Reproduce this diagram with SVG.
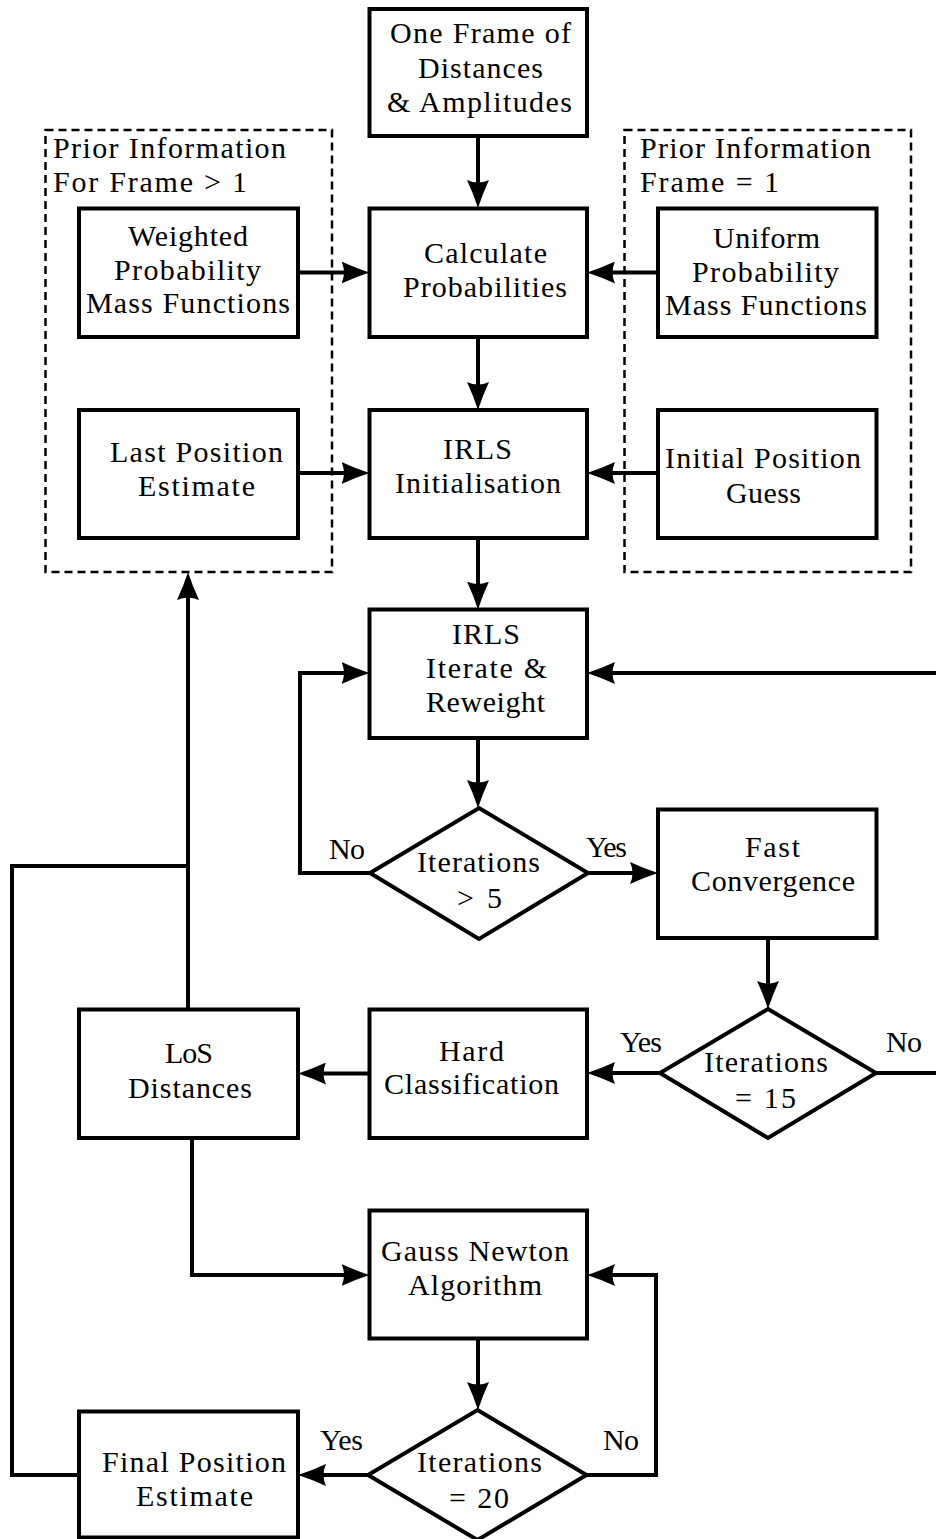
<svg xmlns="http://www.w3.org/2000/svg" width="936" height="1539" viewBox="0 0 936 1539">
<style>
.box{fill:#fff;stroke:#000;stroke-width:4;stroke-linejoin:miter}
.dash{fill:none;stroke:#000;stroke-width:2.5;stroke-dasharray:8 5}
.edge{fill:none;stroke:#000;stroke-width:4;stroke-linejoin:miter}
.arr{marker-end:url(#ah)}
text{font-family:'Liberation Serif','DejaVu Serif',serif;font-size:30px;fill:#000}
</style>
<defs>
<marker id="ah" viewBox="0 0 28 22" refX="18" refY="11" markerWidth="28" markerHeight="22" markerUnits="userSpaceOnUse" orient="auto">
<path d="M0,0 Q14,6.5 28,11 Q14,15.5 0,22 Q5,11 0,0 Z" fill="#000"/>
</marker>
</defs>
<rect width="936" height="1539" fill="#fff"/>

<g id="prior-later">
<rect class="dash" x="45.5" y="130" width="286.5" height="442"/>
<text x="53" y="158" textLength="233" lengthAdjust="spacing">Prior Information</text>
<text x="53" y="192" textLength="194" lengthAdjust="spacing">For Frame &gt; 1</text>
</g>
<g id="prior-first">
<rect class="dash" x="624.5" y="130" width="286.5" height="442"/>
<text x="640" y="158" textLength="231" lengthAdjust="spacing">Prior Information</text>
<text x="640" y="192" textLength="139" lengthAdjust="spacing">Frame = 1</text>
</g>

<g id="connectors">
<path class="edge arr" d="M478,136 V198"/>
<path class="edge arr" d="M298,272.5 H359.5"/>
<path class="edge arr" d="M658,272.5 H597"/>
<path class="edge arr" d="M478,337 V400"/>
<path class="edge arr" d="M298,473 H359.5"/>
<path class="edge arr" d="M658,473 H597"/>
<path class="edge arr" d="M478,538 V599.5"/>
<path class="edge arr" d="M478,738 V798"/>
<path class="edge arr" d="M370,873 H300 V673 H359.5"/>
<path class="edge arr" d="M588,873 H648"/>
<path class="edge arr" d="M768,938 V999"/>
<path class="edge arr" d="M876,1073 H945 V673 H597"/>
<path class="edge arr" d="M660,1073 H597"/>
<path class="edge arr" d="M369.5,1073.5 H308"/>
<path class="edge arr" d="M188,1009.5 V582"/>
<path class="edge" d="M79,1475 H12 V866 H188"/>
<path class="edge arr" d="M192,1138 V1275 H359.5"/>
<path class="edge arr" d="M478,1338.5 V1400"/>
<path class="edge arr" d="M586.5,1475 H656 V1275 H597"/>
<path class="edge arr" d="M368,1475 H308"/>
<text x="329" y="859" textLength="36" lengthAdjust="spacing">No</text>
<text x="586" y="857" textLength="41" lengthAdjust="spacing">Yes</text>
<text x="620" y="1052" textLength="42" lengthAdjust="spacing">Yes</text>
<text x="886" y="1052" textLength="36" lengthAdjust="spacing">No</text>
<text x="320" y="1450" textLength="43" lengthAdjust="spacing">Yes</text>
<text x="603" y="1450" textLength="36" lengthAdjust="spacing">No</text>
</g>

<g id="one-frame">
<rect class="box" x="369.5" y="9" width="217.5" height="127"/>
<text x="390" y="43" textLength="181" lengthAdjust="spacing">One Frame of</text>
<text x="418" y="78" textLength="125" lengthAdjust="spacing">Distances</text>
<text x="387" y="112" textLength="185" lengthAdjust="spacing">&amp; Amplitudes</text>
</g>
<g id="weighted-pmf">
<rect class="box" x="79" y="208.5" width="219" height="128.5"/>
<text x="128" y="246" textLength="120" lengthAdjust="spacing">Weighted</text>
<text x="114" y="280" textLength="147" lengthAdjust="spacing">Probability</text>
<text x="86" y="313" textLength="204" lengthAdjust="spacing">Mass Functions</text>
</g>
<g id="calc-prob">
<rect class="box" x="369.5" y="208.5" width="217.5" height="128.5"/>
<text x="424" y="263" textLength="123" lengthAdjust="spacing">Calculate</text>
<text x="403" y="297" textLength="164" lengthAdjust="spacing">Probabilities</text>
</g>
<g id="uniform-pmf">
<rect class="box" x="658" y="208.5" width="218.5" height="128.5"/>
<text x="713" y="248" textLength="107" lengthAdjust="spacing">Uniform</text>
<text x="692" y="282" textLength="147" lengthAdjust="spacing">Probability</text>
<text x="665" y="315" textLength="202" lengthAdjust="spacing">Mass Functions</text>
</g>
<g id="last-pos">
<rect class="box" x="79" y="410" width="219" height="128"/>
<text x="110" y="462" textLength="173" lengthAdjust="spacing">Last Position</text>
<text x="138" y="496" textLength="117" lengthAdjust="spacing">Estimate</text>
</g>
<g id="irls-init">
<rect class="box" x="369.5" y="410" width="217.5" height="128"/>
<text x="443" y="459" textLength="69" lengthAdjust="spacing">IRLS</text>
<text x="395" y="493" textLength="166" lengthAdjust="spacing">Initialisation</text>
</g>
<g id="initial-guess">
<rect class="box" x="658" y="410" width="218.5" height="128"/>
<text x="665" y="468" textLength="196" lengthAdjust="spacing">Initial Position</text>
<text x="726" y="503" textLength="75" lengthAdjust="spacing">Guess</text>
</g>
<g id="irls-iterate">
<rect class="box" x="369.5" y="609.5" width="217.5" height="128.5"/>
<text x="452" y="644" textLength="68" lengthAdjust="spacing">IRLS</text>
<text x="426" y="678" textLength="121" lengthAdjust="spacing">Iterate &amp;</text>
<text x="426" y="712" textLength="119" lengthAdjust="spacing">Reweight</text>
</g>
<g id="dec-5">
<polygon class="box" points="479,808 588,873 479,939 370,873"/>
<text x="417" y="872" textLength="123" lengthAdjust="spacing">Iterations</text>
<text x="457" y="908" textLength="45" lengthAdjust="spacing">&gt; 5</text>
</g>
<g id="fast-conv">
<rect class="box" x="658" y="809.5" width="218.5" height="128.5"/>
<text x="745" y="857" textLength="55" lengthAdjust="spacing">Fast</text>
<text x="691" y="891" textLength="164" lengthAdjust="spacing">Convergence</text>
</g>
<g id="dec-15">
<polygon class="box" points="768,1009 876,1073 768,1138 660,1073"/>
<text x="704" y="1072" textLength="124" lengthAdjust="spacing">Iterations</text>
<text x="735" y="1108" textLength="61" lengthAdjust="spacing">= 15</text>
</g>
<g id="hard-class">
<rect class="box" x="369.5" y="1009.5" width="217.5" height="128.5"/>
<text x="439" y="1061" textLength="65" lengthAdjust="spacing">Hard</text>
<text x="384" y="1094" textLength="175" lengthAdjust="spacing">Classification</text>
</g>
<g id="los-dist">
<rect class="box" x="79" y="1009.5" width="219" height="128.5"/>
<text x="165" y="1063" textLength="48" lengthAdjust="spacing">LoS</text>
<text x="128" y="1098" textLength="124" lengthAdjust="spacing">Distances</text>
</g>
<g id="gauss-newton">
<rect class="box" x="369.5" y="1210.5" width="217.5" height="128"/>
<text x="381" y="1261" textLength="188" lengthAdjust="spacing">Gauss Newton</text>
<text x="408" y="1295" textLength="134" lengthAdjust="spacing">Algorithm</text>
</g>
<g id="dec-20">
<polygon class="box" points="477.5,1410 586.5,1475 477.5,1540 368,1475"/>
<text x="417" y="1472" textLength="125" lengthAdjust="spacing">Iterations</text>
<text x="449" y="1508" textLength="60" lengthAdjust="spacing">= 20</text>
</g>
<g id="final-pos">
<rect class="box" x="79" y="1411.5" width="219" height="126"/>
<text x="102" y="1472" textLength="184" lengthAdjust="spacing">Final Position</text>
<text x="136" y="1506" textLength="117" lengthAdjust="spacing">Estimate</text>
</g>
</svg>
